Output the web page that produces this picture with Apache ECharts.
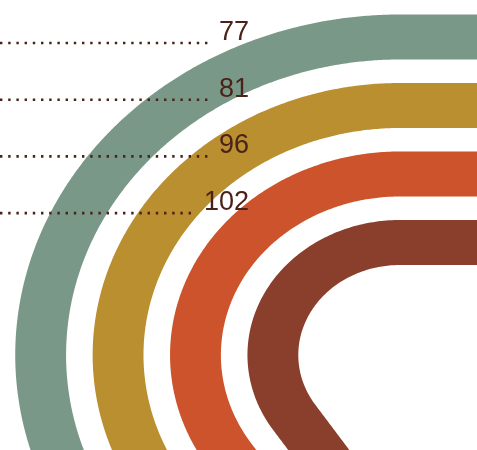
<!DOCTYPE html>
<html>
<head>
<meta charset="utf-8">
<script src="https://cdn.jsdelivr.net/npm/echarts@6/dist/echarts.min.js"></script>
<style>
  html, body { margin: 0; padding: 0; background: #fff; }
  #main { width: 477px; height: 450px; }
</style>
</head>
<body>
<div id="main"></div>
<script>
// lanes from the outside in
var values = [77, 81, 96, 102];
var colors = ['#7a9888', '#b98f2f', '#cc532b', '#8a3e2c'];
var labelText = values.map(function (v) { return String(v); });

var X_SCALE = 1.13;            // px per data unit on x (track looks a bit wide)
var W = 477, H = 450;
var CX = 400 / X_SCALE, CY = 355;
var R_IN = 112.5, LANE_STEP = 68.5, BAND = 45;
var START = 120;               // straight run before the bend
var TURN = 123.7 * Math.PI / 180;
var LEN_PER_VALUE = 10;

function trackPoint(r, s) {
    if (s < START) return { x: CX + START - s, y: CY - r, a: 0 };
    var arc = r * TURN;
    if (s < START + arc) {
        var a = (s - START) / r;
        return { x: CX - r * Math.sin(a), y: CY - r * Math.cos(a), a: a };
    }
    var t = s - START - arc;
    return {
        x: CX - r * Math.sin(TURN) - t * Math.cos(TURN),
        y: CY - r * Math.cos(TURN) + t * Math.sin(TURN),
        a: TURN
    };
}

function renderBand(params, api) {
    var i = api.value(0);
    var val = api.value(1);
    var r = R_IN + (values.length - 1 - i) * LANE_STEP;
    var len = val * LEN_PER_VALUE;
    var outer = [], inner = [];
    for (var s = 0; s <= len; s += 2) {
        var p = trackPoint(r, Math.min(s, len));
        var nx = -Math.sin(p.a), ny = -Math.cos(p.a);
        outer.push(api.coord([p.x + nx * BAND / 2, p.y + ny * BAND / 2]));
        inner.push(api.coord([p.x - nx * BAND / 2, p.y - ny * BAND / 2]));
    }
    return {
        type: 'polygon',
        shape: { points: outer.concat(inner.reverse()) },
        style: { fill: colors[i] }
    };
}

var ROW0 = 43, ROW_STEP = 56.7, LABEL_RIGHT = 248, FONT = 27;

function renderLabel(params, api) {
    var i = api.value(0);
    var txt = labelText[i];
    var rowY = ROW0 + i * ROW_STEP;
    var right = api.coord([LABEL_RIGHT / X_SCALE, rowY]);
    var left = api.coord([0, rowY]);
    var textW = txt.length * FONT * 0.556;
    return {
        type: 'group',
        children: [{
            type: 'line',
            shape: { x1: left[0], y1: left[1], x2: right[0] - textW - 9, y2: right[1] },
            style: { stroke: '#4a2218', lineWidth: 2.6, lineDash: [2.4, 5.8] }
        }, {
            type: 'text',
            style: {
                text: txt, x: right[0] + 1, y: right[1] - 10.5,
                fill: '#4a2218',
                font: FONT + 'px "Liberation Sans", Arial, sans-serif',
                align: 'right', verticalAlign: 'middle'
            }
        }]
    };
}

var laneData = values.map(function (v, i) { return [i, v]; });

var chart = echarts.init(document.getElementById('main'));
chart.setOption({
    animation: false,
    grid: { left: 0, right: 0, top: 0, bottom: 0 },
    xAxis: { type: 'value', min: 0, max: W / X_SCALE, show: false },
    yAxis: { type: 'value', min: 0, max: H, inverse: true, show: false },
    series: [{
        type: 'custom',
        z: 2,
        clip: true,
        renderItem: renderBand,
        data: laneData
    }, {
        type: 'custom',
        z: 3,
        renderItem: renderLabel,
        data: laneData
    }]
});
</script>
</body>
</html>
